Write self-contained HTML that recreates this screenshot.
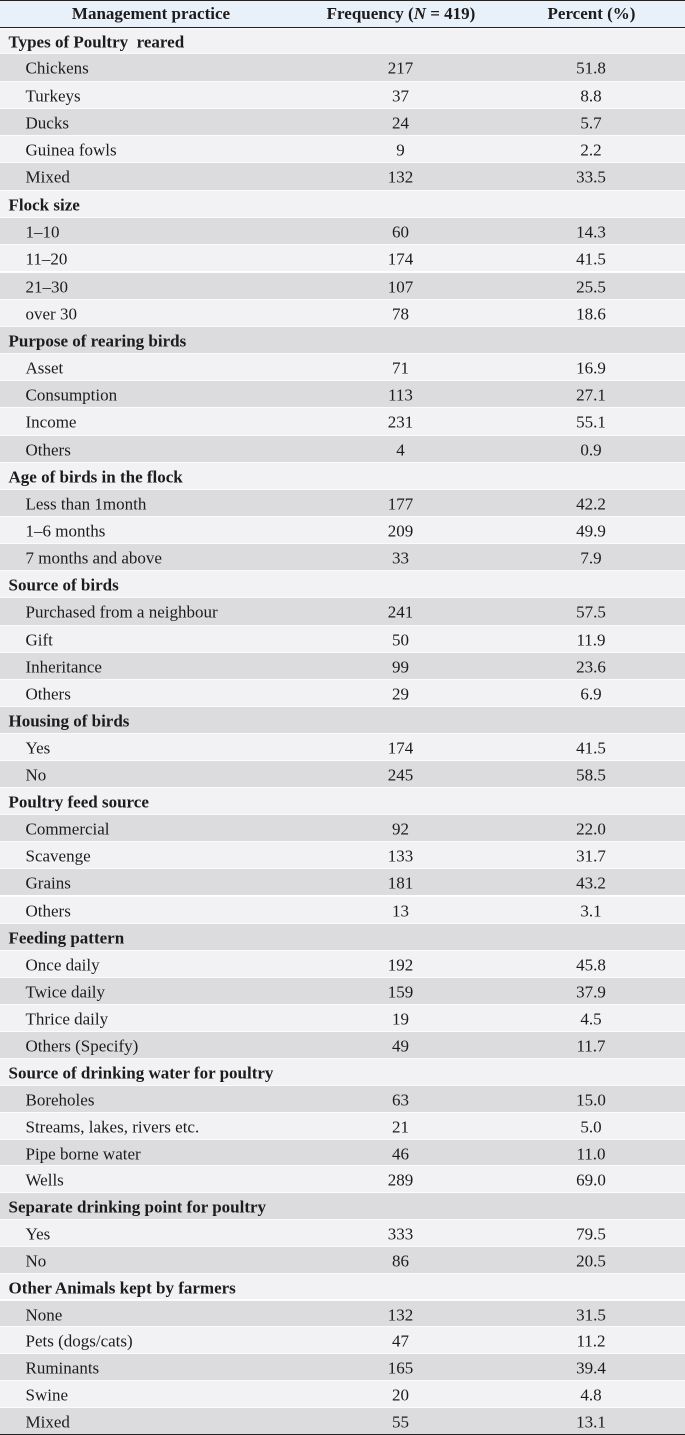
<!DOCTYPE html>
<html>
<head>
<meta charset="utf-8">
<style>
html,body{margin:0;padding:0;background:#ffffff;}
body{width:685px;height:1435px;position:relative;overflow:hidden;font-family:"Liberation Serif","Times New Roman",serif;color:#1d1b1c;font-size:17px;}
.hdr{position:absolute;left:0;top:0;width:685px;height:28px;background:#e8f0f9;border-top:1.5px solid #222;border-bottom:1.3px solid #222;box-sizing:border-box;}
.r{position:absolute;left:0;width:685px;box-sizing:border-box;border-top:1px solid #fbfbfc;}
.l{background:#f2f2f4;}
.g{background:#dcdcde;}
.r span,.hdr span{position:absolute;top:0;white-space:nowrap;transform:translateY(1.5px);}
.c1{left:25.5px;}
.sec{left:8.5px;font-weight:bold;}
.c2{left:300.5px;width:200px;text-align:center;}
.c3{left:491px;width:200px;text-align:center;}
.hdr span{font-weight:bold;line-height:26px;transform:translateY(0px);}
.bot{position:absolute;left:0;top:1433.8px;width:685px;height:1.4px;background:#222;}
</style>
</head>
<body>
<div class="hdr">
<span style="left:51px;width:200px;text-align:center;">Management practice</span>
<span style="left:301px;width:200px;text-align:center;">Frequency (<i>N</i> = 419)</span>
<span style="left:491.5px;width:200px;text-align:center;">Percent (%)</span>
</div>

<div class="r l" style="top:27.7px;height:25.6px;line-height:24.6px"><span class="sec">Types of Poultry&nbsp; reared</span></div>
<div class="r g" style="top:53.3px;height:27.3px;line-height:26.3px"><span class="c1">Chickens</span><span class="c2">217</span><span class="c3">51.8</span></div>
<div class="r l" style="top:80.6px;height:27.2px;line-height:26.2px"><span class="c1">Turkeys</span><span class="c2">37</span><span class="c3">8.8</span></div>
<div class="r g" style="top:107.8px;height:27.3px;line-height:26.3px"><span class="c1">Ducks</span><span class="c2">24</span><span class="c3">5.7</span></div>
<div class="r l" style="top:135.1px;height:27.3px;line-height:26.3px"><span class="c1">Guinea fowls</span><span class="c2">9</span><span class="c3">2.2</span></div>
<div class="r g" style="top:162.4px;height:27.3px;line-height:26.3px"><span class="c1">Mixed</span><span class="c2">132</span><span class="c3">33.5</span></div>
<div class="r l" style="top:189.7px;height:27.2px;line-height:26.2px"><span class="sec">Flock size</span></div>
<div class="r g" style="top:216.9px;height:27.3px;line-height:26.3px"><span class="c1">1–10</span><span class="c2">60</span><span class="c3">14.3</span></div>
<div class="r l" style="top:244.2px;height:27.3px;line-height:26.3px"><span class="c1">11–20</span><span class="c2">174</span><span class="c3">41.5</span></div>
<div class="r g" style="top:271.5px;height:27.2px;line-height:26.2px"><span class="c1">21–30</span><span class="c2">107</span><span class="c3">25.5</span></div>
<div class="r l" style="top:298.7px;height:27.3px;line-height:26.3px"><span class="c1">over 30</span><span class="c2">78</span><span class="c3">18.6</span></div>
<div class="r g" style="top:326.0px;height:27.1px;line-height:26.1px"><span class="sec">Purpose of rearing birds</span></div>
<div class="r l" style="top:353.1px;height:27.2px;line-height:26.2px"><span class="c1">Asset</span><span class="c2">71</span><span class="c3">16.9</span></div>
<div class="r g" style="top:380.3px;height:27.1px;line-height:26.1px"><span class="c1">Consumption</span><span class="c2">113</span><span class="c3">27.1</span></div>
<div class="r l" style="top:407.4px;height:27.2px;line-height:26.2px"><span class="c1">Income</span><span class="c2">231</span><span class="c3">55.1</span></div>
<div class="r g" style="top:434.6px;height:27.1px;line-height:26.1px"><span class="c1">Others</span><span class="c2">4</span><span class="c3">0.9</span></div>
<div class="r l" style="top:461.7px;height:27.2px;line-height:26.2px"><span class="sec">Age of birds in the flock</span></div>
<div class="r g" style="top:488.9px;height:27.1px;line-height:26.1px"><span class="c1">Less than 1month</span><span class="c2">177</span><span class="c3">42.2</span></div>
<div class="r l" style="top:516.0px;height:27.1px;line-height:26.1px"><span class="c1">1–6 months</span><span class="c2">209</span><span class="c3">49.9</span></div>
<div class="r g" style="top:543.1px;height:27.2px;line-height:26.2px"><span class="c1">7 months and above</span><span class="c2">33</span><span class="c3">7.9</span></div>
<div class="r l" style="top:570.3px;height:27.1px;line-height:26.1px"><span class="sec">Source of birds</span></div>
<div class="r g" style="top:597.4px;height:27.2px;line-height:26.2px"><span class="c1">Purchased from a neighbour</span><span class="c2">241</span><span class="c3">57.5</span></div>
<div class="r l" style="top:624.6px;height:27.1px;line-height:26.1px"><span class="c1">Gift</span><span class="c2">50</span><span class="c3">11.9</span></div>
<div class="r g" style="top:651.7px;height:27.2px;line-height:26.2px"><span class="c1">Inheritance</span><span class="c2">99</span><span class="c3">23.6</span></div>
<div class="r l" style="top:678.9px;height:27.1px;line-height:26.1px"><span class="c1">Others</span><span class="c2">29</span><span class="c3">6.9</span></div>
<div class="r g" style="top:706.0px;height:27.1px;line-height:26.1px"><span class="sec">Housing of birds</span></div>
<div class="r l" style="top:733.1px;height:27.0px;line-height:26.0px"><span class="c1">Yes</span><span class="c2">174</span><span class="c3">41.5</span></div>
<div class="r g" style="top:760.1px;height:27.1px;line-height:26.1px"><span class="c1">No</span><span class="c2">245</span><span class="c3">58.5</span></div>
<div class="r l" style="top:787.2px;height:27.1px;line-height:26.1px"><span class="sec">Poultry feed source</span></div>
<div class="r g" style="top:814.3px;height:27.1px;line-height:26.1px"><span class="c1">Commercial</span><span class="c2">92</span><span class="c3">22.0</span></div>
<div class="r l" style="top:841.4px;height:27.0px;line-height:26.0px"><span class="c1">Scavenge</span><span class="c2">133</span><span class="c3">31.7</span></div>
<div class="r g" style="top:868.4px;height:27.1px;line-height:26.1px"><span class="c1">Grains</span><span class="c2">181</span><span class="c3">43.2</span></div>
<div class="r l" style="top:895.5px;height:27.1px;line-height:26.1px"><span class="c1">Others</span><span class="c2">13</span><span class="c3">3.1</span></div>
<div class="r g" style="top:922.6px;height:27.0px;line-height:26.0px"><span class="sec">Feeding pattern</span></div>
<div class="r l" style="top:949.6px;height:27.1px;line-height:26.1px"><span class="c1">Once daily</span><span class="c2">192</span><span class="c3">45.8</span></div>
<div class="r g" style="top:976.7px;height:27.1px;line-height:26.1px"><span class="c1">Twice daily</span><span class="c2">159</span><span class="c3">37.9</span></div>
<div class="r l" style="top:1003.8px;height:27.1px;line-height:26.1px"><span class="c1">Thrice daily</span><span class="c2">19</span><span class="c3">4.5</span></div>
<div class="r g" style="top:1030.9px;height:27.0px;line-height:26.0px"><span class="c1">Others (Specify)</span><span class="c2">49</span><span class="c3">11.7</span></div>
<div class="r l" style="top:1057.9px;height:27.1px;line-height:26.1px"><span class="sec">Source of drinking water for poultry</span></div>
<div class="r g" style="top:1085.0px;height:26.8px;line-height:25.8px"><span class="c1">Boreholes</span><span class="c2">63</span><span class="c3">15.0</span></div>
<div class="r l" style="top:1111.8px;height:26.8px;line-height:25.8px"><span class="c1">Streams, lakes, rivers etc.</span><span class="c2">21</span><span class="c3">5.0</span></div>
<div class="r g" style="top:1138.6px;height:26.8px;line-height:25.8px"><span class="c1">Pipe borne water</span><span class="c2">46</span><span class="c3">11.0</span></div>
<div class="r l" style="top:1165.4px;height:26.8px;line-height:25.8px"><span class="c1">Wells</span><span class="c2">289</span><span class="c3">69.0</span></div>
<div class="r g" style="top:1192.2px;height:26.8px;line-height:25.8px"><span class="sec">Separate drinking point for poultry</span></div>
<div class="r l" style="top:1219.0px;height:26.8px;line-height:25.8px"><span class="c1">Yes</span><span class="c2">333</span><span class="c3">79.5</span></div>
<div class="r g" style="top:1245.8px;height:26.9px;line-height:25.9px"><span class="c1">No</span><span class="c2">86</span><span class="c3">20.5</span></div>
<div class="r l" style="top:1272.7px;height:26.8px;line-height:25.8px"><span class="sec">Other Animals kept by farmers</span></div>
<div class="r g" style="top:1299.5px;height:26.8px;line-height:25.8px"><span class="c1">None</span><span class="c2">132</span><span class="c3">31.5</span></div>
<div class="r l" style="top:1326.3px;height:26.8px;line-height:25.8px"><span class="c1">Pets (dogs/cats)</span><span class="c2">47</span><span class="c3">11.2</span></div>
<div class="r g" style="top:1353.1px;height:26.8px;line-height:25.8px"><span class="c1">Ruminants</span><span class="c2">165</span><span class="c3">39.4</span></div>
<div class="r l" style="top:1379.9px;height:26.8px;line-height:25.8px"><span class="c1">Swine</span><span class="c2">20</span><span class="c3">4.8</span></div>
<div class="r g" style="top:1406.7px;height:27.1px;line-height:26.1px"><span class="c1">Mixed</span><span class="c2">55</span><span class="c3">13.1</span></div>
<div class="bot"></div>
</body>
</html>
